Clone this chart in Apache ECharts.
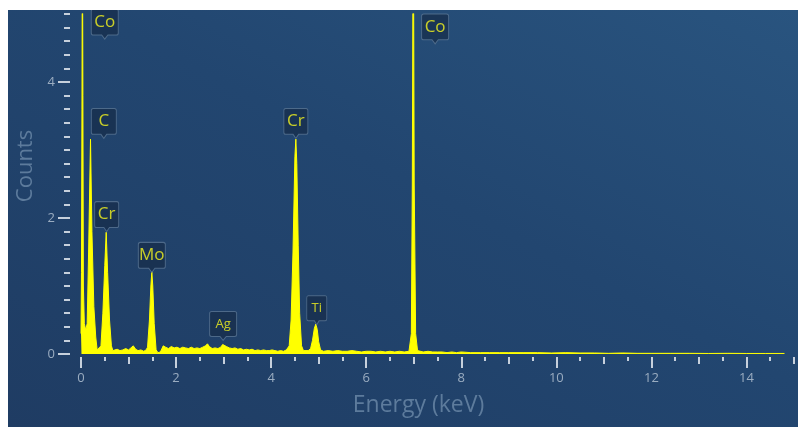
<!DOCTYPE html>
<html>
<head>
<meta charset="utf-8">
<script src="https://cdn.jsdelivr.net/npm/echarts@6/dist/echarts.min.js"></script>
<style>
  html, body { margin: 0; padding: 0; background: #ffffff; }
  #chart { position: absolute; left: 8px; top: 10px; width: 790px; height: 417px;
    background: linear-gradient(to top right, #1f3c63 0%, #224670 55%, #29547f 100%); }
</style>
</head>
<body>
<div id="chart"></div>
<script>
// Spectrum (energy in keV, counts)
const energy = [
  0.00, 0.01, 0.02, 0.03, 0.04, 0.05, 0.07, 0.10, 0.13, 0.16, 0.20, 0.23, 0.27, 0.31, 0.34, 0.38,
  0.42, 0.46, 0.50, 0.53, 0.56, 0.60, 0.64, 0.67, 0.70, 0.76, 0.82, 0.88, 0.94, 1.00, 1.05, 1.10,
  1.15, 1.20, 1.26, 1.32, 1.37, 1.40, 1.44, 1.47, 1.49, 1.51, 1.54, 1.58, 1.62, 1.67, 1.71, 1.73,
  1.78, 1.84, 1.90, 1.96, 2.02, 2.08, 2.14, 2.20, 2.26, 2.32, 2.38, 2.44, 2.50, 2.56, 2.62, 2.66,
  2.70, 2.76, 2.82, 2.88, 2.94, 2.98, 3.02, 3.06, 3.12, 3.18, 3.24, 3.30, 3.36, 3.42, 3.48, 3.54,
  3.60, 3.66, 3.72, 3.78, 3.84, 3.90, 3.96, 4.02, 4.08, 4.14, 4.20, 4.26, 4.32, 4.38, 4.42, 4.46,
  4.50, 4.52, 4.54, 4.57, 4.60, 4.64, 4.68, 4.72, 4.78, 4.83, 4.87, 4.91, 4.94, 4.97, 5.00, 5.04,
  5.10, 5.20, 5.30, 5.40, 5.50, 5.60, 5.70, 5.80, 5.90, 6.00, 6.10, 6.20, 6.30, 6.40, 6.50, 6.60,
  6.70, 6.80, 6.90, 6.95, 6.97, 6.99, 7.01, 7.04, 7.08, 7.20, 7.30, 7.40, 7.50, 7.60, 7.70, 7.80,
  7.90, 8.00, 8.20, 8.40, 8.60, 8.80, 9.00, 9.30, 9.60, 9.90, 10.2, 10.5, 10.8, 11.1, 11.4, 11.7,
  12.0, 12.4, 12.8, 13.2, 13.6, 14.0, 14.4, 14.8
];
const counts = [
  0.30, 1.20, 3.60, 6.50, 3.80, 1.00, 0.45, 0.35, 0.45, 1.50, 3.16, 1.80, 0.70, 0.25, 0.06, 0.04,
  0.12, 0.60, 1.30, 1.79, 1.20, 0.50, 0.12, 0.05, 0.05, 0.07, 0.05, 0.06, 0.08, 0.06, 0.09, 0.12,
  0.07, 0.05, 0.06, 0.04, 0.06, 0.10, 0.50, 1.00, 1.21, 1.00, 0.45, 0.06, 0.02, 0.03, 0.02, 0.12,
  0.10, 0.08, 0.11, 0.09, 0.10, 0.08, 0.10, 0.09, 0.08, 0.10, 0.08, 0.09, 0.08, 0.10, 0.12, 0.15,
  0.11, 0.08, 0.09, 0.08, 0.10, 0.14, 0.15, 0.11, 0.09, 0.08, 0.09, 0.07, 0.08, 0.06, 0.07, 0.06,
  0.07, 0.05, 0.06, 0.05, 0.06, 0.05, 0.05, 0.06, 0.05, 0.04, 0.05, 0.04, 0.06, 0.12, 0.50, 1.50,
  2.90, 3.16, 2.80, 1.60, 0.60, 0.12, 0.05, 0.04, 0.05, 0.08, 0.20, 0.38, 0.44, 0.36, 0.18, 0.06,
  0.04, 0.05, 0.04, 0.05, 0.04, 0.04, 0.05, 0.04, 0.03, 0.04, 0.04, 0.03, 0.04, 0.03, 0.04, 0.03,
  0.04, 0.03, 0.04, 0.30, 2.50, 7.00, 2.50, 0.30, 0.05, 0.03, 0.04, 0.03, 0.03, 0.03, 0.02, 0.03,
  0.02, 0.03, 0.02, 0.02, 0.02, 0.02, 0.02, 0.02, 0.02, 0.015, 0.02, 0.015, 0.015, 0.01, 0.015, 0.01,
  0.01, 0.01, 0.01, 0.008, 0.01, 0.008, 0.008, 0.008
];

// Peak annotations (pointer tip position: energy keV, counts)
const labelNames  = ['Co', 'C', 'Cr', 'Mo', 'Ag', 'Cr', 'Ti', 'Co'];
const labelEnergy = [0.50, 0.48, 0.54, 1.49, 2.99, 4.52, 4.96, 7.45];
const labelCounts = [4.63, 3.17, 1.80, 1.20, 0.20, 3.17, 0.43, 4.56];

// Axis ticks
const xMajorTicks = [0, 2, 4, 6, 8, 10, 12, 14];
const yMajorTicks = [0, 2, 4];

const spectrum = energy.map((e, i) => [e, counts[i]]);
const small = new Set(['Ag', 'Ti']);
const callout = 'path://M2,0 H24 Q26,0 26,2 V23 Q26,25 24,25 H16 L13,29 L10,25 H2 Q0,25 0,23 V2 Q0,0 2,0 Z';
const labelData = labelNames.map((n, i) => {
  const isSmall = small.has(n);
  const w = n === 'Ti' ? 20 : (n === 'C' ? 25 : (n === 'Cr' ? 24 : 27));
  const h = isSmall ? 29 : 30;
  return {
    value: [labelEnergy[i], labelCounts[i]],
    name: n,
    symbolSize: [w, h],
    symbolOffset: [0, -h / 2],
    label: { fontSize: isSmall ? 13 : 17, offset: [0, -2] }
  };
});

const tickColor = '#c6d0dc';
const labelColor = '#9aacc0';
const nameColor = '#5d7b9c';
const font = '"Open Sans", "Noto Sans", sans-serif';

function xTickAxis(grid, interval, len, extra) {
  return Object.assign({ type: 'value', gridIndex: grid, position: 'bottom', min: 0, max: 15, interval: interval,
    axisLine: { show: false }, splitLine: { show: false },
    axisTick: { show: true, length: len, lineStyle: { color: tickColor, width: 2 } },
    axisLabel: { show: false } }, extra || {});
}
function yTickAxis(grid, interval, len, extra) {
  return Object.assign({ type: 'value', gridIndex: grid, position: 'left', min: 0, max: 5, interval: interval,
    axisLine: { show: false }, splitLine: { show: false },
    axisTick: { show: true, length: len, lineStyle: { color: tickColor, width: 2 } },
    axisLabel: { show: false } }, extra || {});
}

const chart = echarts.init(document.getElementById('chart'));
chart.setOption({
  animation: false,
  grid: [
    // data area
    { left: 73, right: 4, top: 4, bottom: 73, containLabel: false, outerBoundsMode: 'none' },
    // x tick strip (axis line 3px below data area)
    { left: 73, right: 4, top: 7, bottom: 70, containLabel: false, outerBoundsMode: 'none' },
    // y tick strip (axis line 11px left of data area)
    { left: 62, right: 4, top: 4, bottom: 73, containLabel: false, outerBoundsMode: 'none' }
  ],
  xAxis: [
    { type: 'value', gridIndex: 0, min: 0, max: 15, show: false },
    xTickAxis(1, 0.5, 4),
    xTickAxis(1, 1, 7),
    xTickAxis(1, 2, 11, {
      axisTick: { show: true, length: 11, customValues: xMajorTicks, lineStyle: { color: tickColor, width: 2 } },
      axisLabel: { show: true, customValues: xMajorTicks, margin: 15, color: labelColor, fontSize: 13, fontFamily: font },
      name: 'Energy (keV)', nameLocation: 'middle', nameGap: 37,
      nameTextStyle: { color: nameColor, fontSize: 23, fontFamily: font, padding: [0, 38, 0, 0] } }),
    { type: 'value', gridIndex: 2, min: 0, max: 15, show: false }
  ],
  yAxis: [
    { type: 'value', gridIndex: 0, min: 0, max: 5, show: false },
    { type: 'value', gridIndex: 1, min: 0, max: 5, show: false },
    yTickAxis(2, 0.2, 6),
    yTickAxis(2, 1, 12, {
      axisTick: { show: true, length: 12, customValues: yMajorTicks, lineStyle: { color: tickColor, width: 2 } },
      axisLabel: { show: true, customValues: yMajorTicks, margin: 15, color: labelColor, fontSize: 13, fontFamily: font },
      name: 'Counts', nameLocation: 'middle', nameGap: 27,
      nameTextStyle: { color: nameColor, fontSize: 22, fontFamily: font, padding: [0, 0, 0, 36] } })
  ],
  series: [
    { type: 'line', xAxisIndex: 0, yAxisIndex: 0, data: spectrum, showSymbol: false, symbol: 'none',
      lineStyle: { color: '#ffff00', width: 1 }, areaStyle: { color: '#ffff00', opacity: 1 },
      clip: true, z: 2 },
    { type: 'scatter', xAxisIndex: 0, yAxisIndex: 0, data: labelData, symbol: callout,
      symbolKeepAspect: false, clip: false, z: 5,
      itemStyle: { color: 'rgba(22,44,74,0.9)', borderColor: '#5a7594', borderWidth: 1 },
      label: { show: true, position: 'inside', formatter: '{b}', color: '#f5f51e', fontFamily: font } }
  ]
});
</script>
</body>
</html>
